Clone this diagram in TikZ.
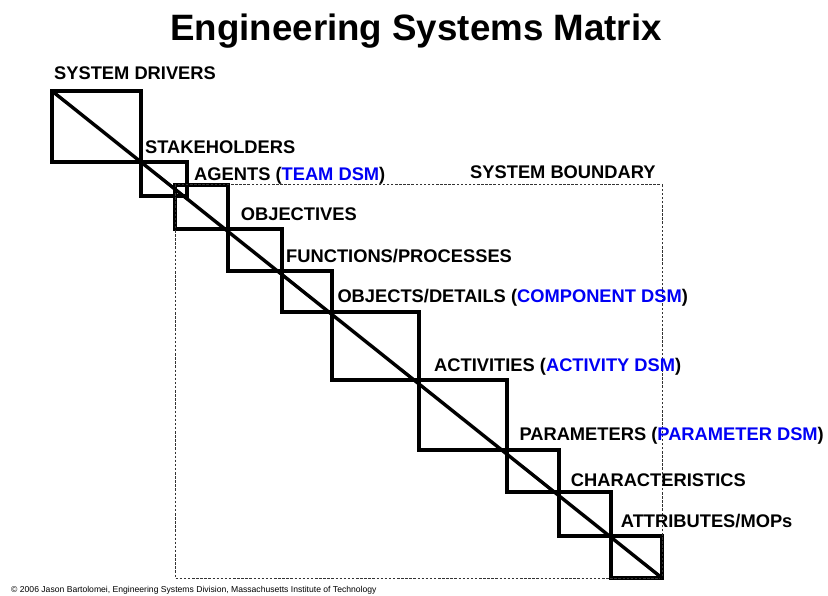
\documentclass[tikz,border=0pt]{standalone}
\usepackage{fontspec}
\setmainfont{Liberation Sans}
\usepackage{tikz}
\usetikzlibrary{positioning}

\definecolor{dsmblue}{RGB}{0,0,245}

\begin{document}
\begin{tikzpicture}[
        x=1pt, y=-1pt,
        cell/.style 2 args={draw, line width=3.2pt, inner sep=0, outer sep=0, minimum width=#1, minimum height=#2, anchor=north west},
        lbl/.style={inner sep=0, anchor=base west, font=\fontsize{18.3}{20}\selectfont\bfseries},
        boundary/.style={line width=1pt, black!80, dash pattern=on 2.5pt off 1.6pt}
    ]
    \useasboundingbox (0,0) rectangle (828,596);

    % Title
    \node (title)[inner sep=0, anchor=base, font=\fontsize{36.7}{40}\selectfont\bfseries] at (416,41) {Engineering Systems Matrix};

    % Cells
    \node (drivers)[cell={89pt}{71pt}] at (52,91) {};
    \node (stake)[cell={46pt}{34pt}] at (drivers.south east) {};
    \node (agents)[cell={53pt}{44pt}] at (175,185) {};
    \node (object)[cell={54pt}{42pt}] at (agents.south east) {};
    \node (funcs)[cell={50pt}{41pt}] at (object.south east) {};
    \node (details)[cell={87pt}{68pt}] at (funcs.south east) {};
    \node (activ)[cell={88pt}{70pt}] at (details.south east) {};
    \node (param)[cell={52pt}{42pt}] at (activ.south east) {};
    \node (charac)[cell={52pt}{44pt}] at (param.south east) {};
    \node (attr)[cell={51pt}{42pt}] at (charac.south east) {};

    % Boundary and diagonal
    \draw[boundary] (agents.north west) rectangle (attr.south east);
    \draw[line width=3.4pt] (drivers.north west) -- (attr.south east);

    % Labels
    \node (ldrivers)[lbl] at (54,80) {SYSTEM DRIVERS};
    \node (lstake)[lbl] at (145,153.3) {STAKEHOLDERS};
    \node (lagents)[lbl] at (194,180.7) {AGENTS (\textcolor{dsmblue}{TEAM DSM})};
    \node (lbound)[lbl] at (470,178.3) {SYSTEM BOUNDARY};
    \node (lobject)[lbl] at (240.7,221) {OBJECTIVES};
    \node (lfuncs)[lbl] at (286,262.7) {FUNCTIONS/PROCESSES};
    \node (ldetails)[lbl] at (337.3,302.7) {OBJECTS/DETAILS (\textcolor{dsmblue}{COMPONENT DSM})};
    \node (lactiv)[lbl] at (434,371.7) {ACTIVITIES (\textcolor{dsmblue}{ACTIVITY DSM})};
    \node (lparam)[lbl] at (519.3,440.7) {PARAMETERS (\textcolor{dsmblue}{PARAMETER DSM})};
    \node (lcharac)[lbl] at (570.7,486) {CHARACTERISTICS};
    \node (lattr)[lbl] at (620.7,527.3) {ATTRIBUTES/MOPs};

    % Footer
    \node (credit)[inner sep=0, anchor=base west, font=\fontsize{8.6}{9}\selectfont] at (11,592.3) {\textcopyright{} 2006 Jason Bartolomei, Engineering Systems Division, Massachusetts Institute of Technology};
\end{tikzpicture}
\end{document}
